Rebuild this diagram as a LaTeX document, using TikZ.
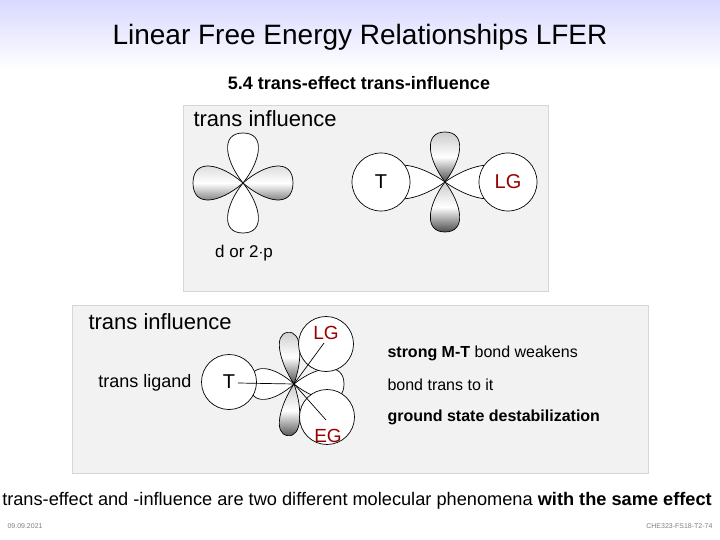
\documentclass[tikz,border=0pt]{standalone}
\usepackage{fontspec}
\setmainfont{Liberation Sans}
\usetikzlibrary{calc}
\begin{document}
\begin{tikzpicture}[x=1pt,y=-1pt,
  panel/.style={draw=blue!10!gray!30,fill=gray!10,line width=0.6pt},
  ring/.style={draw=black,fill=white,line width=0.7pt,circle,inner sep=0pt,minimum size=#1},
  wlobe/.style={draw=black,fill=white,line width=0.7pt},
  globe/.style={draw=black,line width=0.7pt,top color=gray!40,bottom color=gray!60!black,middle color=white},
  red/.style={text=red!60!black},
  lbl/.style={font=\fontsize{16}{18}\selectfont,anchor=west}]
\useasboundingbox (0,0) rectangle (720,540);
\shade[top color=blue!15,bottom color=white] (0,0) rectangle (720,70);
\def\lobe#1#2#3#4#5{\path[#1,rotate around={#5:(#2)}] (#2) .. controls ($(#2)+(0.45*#3,-0.9*#4)$) and ($(#2)+(#3,-1.15*#4)$) .. ($(#2)+(#3,0)$) .. controls ($(#2)+(#3,1.15*#4)$) and ($(#2)+(0.45*#3,0.9*#4)$) .. (#2);}
\node (title) at (360,37) {\fontsize{28}{32}\selectfont Linear Free Energy Relationships LFER};
\node (sub) at (359,83) {\fontsize{18}{20}\selectfont\bfseries 5.4 trans-effect trans-influence};
% panel 1
\path[panel] (183,105) rectangle (548,291);
\node[anchor=west] (ti1) at (190,119) {\fontsize{22}{24}\selectfont trans influence};
\coordinate (c1) at (243,183);
\lobe{wlobe}{c1}{50}{20}{-90}
\lobe{wlobe}{c1}{50}{20}{90}
\lobe{globe}{c1}{50}{22}{180}
\lobe{globe}{c1}{50}{22}{0}
\node (dp) at (244,253) {\fontsize{17}{19}\selectfont d or 2$\cdot$p};
\coordinate (c2) at (445,182);
\lobe{wlobe}{c2}{62}{22}{180}
\lobe{wlobe}{c2}{62}{22}{0}
\node[ring=58pt] (T1) at (381,182) {\fontsize{20}{22}\selectfont T};
\node[ring=58pt,red] (LG1) at (508,182) {\fontsize{20}{22}\selectfont LG};
\lobe{globe}{c2}{50}{19}{-90}
\lobe{globe}{c2}{50}{19}{90}
% panel 2
\path[panel] (72,305) rectangle (648,473);
\node[anchor=west] (ti2) at (85,322) {\fontsize{22}{24}\selectfont trans influence};
\node (tl) at (145,383) {\fontsize{18}{20}\selectfont trans ligand};
\coordinate (c3) at (294,384);
\lobe{wlobe}{c3}{44}{20}{180}
\lobe{wlobe}{c3}{50}{20}{0}
\lobe{globe}{c3}{52}{13}{-97}
\lobe{globe}{c3}{52}{13}{97}
\node[ring=55pt] (T2) at (229,382) {\fontsize{20}{22}\selectfont T};
\node[ring=55pt] (LG2) at (326,344) {};
\node[ring=55pt] (EG2) at (327,417) {};
\node[red] at (326,333) {\fontsize{19}{21}\selectfont LG};
\node[red] at (328,436) {\fontsize{19}{21}\selectfont EG};
\draw[line width=0.7pt] (238,383) -- (c3) -- (324,343);
\draw[line width=0.7pt] (c3) -- (326,420);
\node[lbl] (s1) at (384,353) {\textbf{strong M-T} bond weakens};
\node[lbl] (s2) at (384,385) {bond trans to it};
\node[lbl] (s3) at (384,417) {\bfseries ground state destabilization};
\node (bottom) at (357,501) {\fontsize{18.2}{20}\selectfont trans-effect and -influence are two different molecular phenomena \textbf{with the same effect}};
\node[anchor=west,text=gray] (d) at (4,526) {\fontsize{7}{8}\selectfont 09.09.2021};
\node[anchor=east,text=gray] (f) at (716,526) {\fontsize{7}{8}\selectfont CHE323-FS18-T2-74};
\end{tikzpicture}
\end{document}
